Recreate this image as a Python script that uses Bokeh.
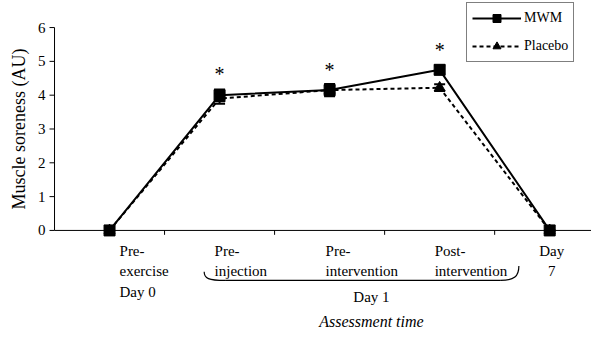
import math
from bokeh.plotting import figure
from bokeh.models import (Range1d, Whisker, ColumnDataSource,
                          Legend, LegendItem, TeeHead)
from bokeh.core.properties import value
from bokeh.embed import file_html
from bokeh.resources import INLINE

# ---------------- data ----------------
categories = ["Pre-\nexercise\nDay 0", "Pre-\ninjection", "Pre-\nintervention",
              "Post-\nintervention", "Day\n7"]
mwm = [0.0, 4.0, 4.15, 4.75, 0.0]
mwm_err = [0.0, 0.17, 0.15, 0.13, 0.0]
placebo = [0.0, 3.9, 4.15, 4.22, 0.0]
placebo_err = [0.0, 0.15, 0.18, 0.10, 0.0]
significant = [False, True, True, True, False]
group_label = "Day 1"
group_first, group_last = 1, 3          # indices of categories spanned by "Day 1"
y_ticks = [0, 1, 2, 3, 4, 5, 6]
y_tick_labels = ["0", "1", "2", "3", "4", "5", "6"]
y_title = "Muscle soreness (AU)"
x_title = "Assessment time"

FONT = "Liberation Serif"
QFONT = "'Liberation Serif'"
xs = [i + 1 for i in range(len(categories))]
X0 = 0.5   # left edge of the category axis (where the value axis sits)
PX = 1 / 110.0  # data units per pixel horizontally

p = figure(width=591, height=329, output_backend="svg", toolbar_location=None,
           x_range=Range1d(X0 - 54 * PX, 5.38), y_range=Range1d(-2.93, 6.80),
           min_border_left=0, min_border_right=0, min_border_top=0, min_border_bottom=0)
p.outline_line_color = None
p.grid.visible = False
p.axis.visible = False

# value axis (drawn by hand so that it can carry serif text)
p.segment(x0=[X0], x1=[X0], y0=[y_ticks[0]], y1=[y_ticks[-1]], line_color="black", line_width=1)
p.segment(x0=[X0] * len(y_ticks), x1=[X0 - 5 * PX] * len(y_ticks), y0=y_ticks, y1=y_ticks,
          line_color="black", line_width=1)
p.text(x=[X0] * len(y_ticks), y=y_ticks, text=y_tick_labels, x_offset=-9,
       text_font=value(FONT), text_font_size="15px", text_align="right",
       text_baseline="middle", text_color="black")
p.text(x=[X0 - 36 * PX], y=[(y_ticks[0] + y_ticks[-1]) / 2], text=[y_title], angle=math.pi / 2,
       text_font=value(FONT), text_font_size="18px", text_align="center",
       text_baseline="middle", text_color="black")

# category axis line at y = 0 with ticks at category boundaries
p.segment(x0=[X0], x1=[5.38], y0=[0], y1=[0], line_color="black", line_width=1)
bounds = [x + 0.5 for x in xs[:-1]]
p.segment(x0=bounds, x1=bounds, y0=[0] * len(bounds), y1=[-0.13] * len(bounds),
          line_color="black", line_width=1)

# error bars
src_m = ColumnDataSource(dict(x=xs, y=mwm,
                              up=[v + e for v, e in zip(mwm, mwm_err)],
                              lo=[v - e for v, e in zip(mwm, mwm_err)]))
src_p = ColumnDataSource(dict(x=xs, y=placebo,
                              up=[v + e for v, e in zip(placebo, placebo_err)],
                              lo=[v - e for v, e in zip(placebo, placebo_err)]))
for src in (src_p, src_m):
    w = Whisker(base="x", upper="up", lower="lo", source=src, dimension="height",
                line_color="black", line_width=2,
                upper_head=TeeHead(size=11, line_width=2, line_color="black"),
                lower_head=TeeHead(size=11, line_width=2, line_color="black"))
    p.add_layout(w)

# lines and markers
pl_line = p.line("x", "y", source=src_p, line_color="black", line_width=2, line_dash="4 3")
pl_pts = p.scatter("x", "y", source=src_p, marker="triangle", size=11,
                   fill_color="black", line_color="black")
m_line = p.line("x", "y", source=src_m, line_color="black", line_width=2)
m_pts = p.scatter("x", "y", source=src_m, marker="square", size=11,
                  fill_color="black", line_color="black")

# significance asterisks
sx = [x for x, s in zip(xs, significant) if s]
sy = [v + e + 0.45 for v, e, s in zip(mwm, mwm_err, significant) if s]
p.text(x=sx, y=sy, text=["*"] * len(sx), text_font=value(FONT), text_font_size="20px",
       text_align="center", text_baseline="alphabetic", text_color="black")

# category labels
left_offsets = [10, -5, -4, -5]
p.text(x=xs[:-1], y=[-0.36] * (len(xs) - 1), text=categories[:-1], x_offset=left_offsets,
       text_font=value(FONT), text_font_size="15px", text_align="left",
       text_baseline="top", text_line_height=1.3, text_color="black")
p.text(x=xs[-1:], y=[-0.36], text=categories[-1:], x_offset=[2],
       text_font=value(FONT), text_font_size="15px", text_align="center",
       text_baseline="top", text_line_height=1.3, text_color="black")

# brace under the Day 1 group
bx0 = xs[group_first] - 0.14
bx1 = xs[group_last] + 0.72
yb = -1.48
p.bezier(x0=[bx0], y0=[-1.22], x1=[bx0 + 0.19], y1=[yb],
         cx0=[bx0], cy0=[-1.42], cx1=[bx0 + 0.04], cy1=[yb],
         line_color="black", line_width=1.2)
p.segment(x0=[bx0 + 0.19], y0=[yb], x1=[bx1 - 0.17], y1=[yb], line_color="black", line_width=1.2)
p.bezier(x0=[bx1 - 0.17], y0=[yb], x1=[bx1], y1=[-1.05],
         cx0=[bx1 - 0.04], cy0=[yb], cx1=[bx1], cy1=[-1.35],
         line_color="black", line_width=1.2)

gx = (xs[group_first] + xs[group_last] + 0.76) / 2
p.text(x=[gx], y=[-1.98], text=[group_label], text_font=value(FONT), text_font_size="15px",
       text_align="center", text_baseline="middle", text_color="black")
p.text(x=[gx], y=[-2.68], text=[x_title], text_font=value(FONT), text_font_size="16px",
       text_font_style="italic", text_align="center", text_baseline="middle", text_color="black")

# legend
legend = Legend(items=[LegendItem(label="MWM", renderers=[m_line, m_pts]),
                       LegendItem(label="Placebo", renderers=[pl_line, pl_pts])],
                location=(466, 267))
legend.label_text_font = QFONT
legend.label_text_font_size = "14px"
legend.label_text_color = "black"
legend.glyph_width = 49
legend.glyph_height = 20
legend.padding = 5
legend.spacing = 8
legend.label_standoff = 3
legend.margin = 0
legend.border_line_color = "black"
legend.border_line_width = 1
legend.background_fill_alpha = 1
p.add_layout(legend)

open("out.html", "w").write(file_html(p, INLINE))
